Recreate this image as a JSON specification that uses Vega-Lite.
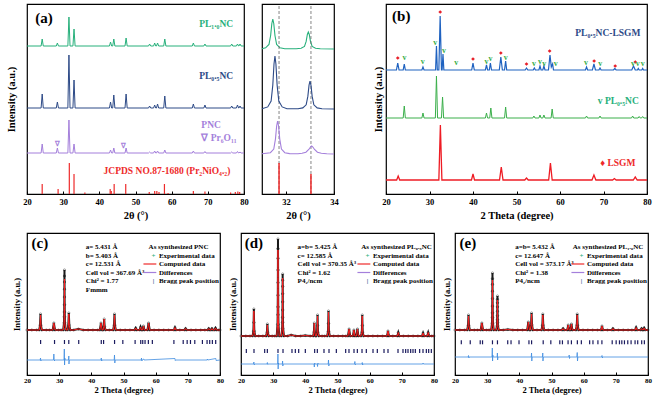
{
"$schema": "https://vega.github.io/schema/vega-lite/v6.json",
"padding": {"left": 5, "top": 3, "right": 2, "bottom": 2},
"background": "white",
"config": {
  "font": "Liberation Serif",
  "view": {"stroke": "#000", "strokeWidth": 1.2},
  "axis": {"grid": false, "domain": false, "labelFont": "Liberation Serif", "titleFont": "Liberation Serif", "labelFontWeight": "bold", "titleFontWeight": "bold", "labelColor": "#000", "titleColor": "#000", "tickColor": "#000", "labelFlush": false, "labelOverlap": false},
  "text": {"font": "Liberation Serif", "fontWeight": "bold", "baseline": "middle"}
},
"datasets": {
  "ag": [{"x":20,"y":148},{"x":23.9,"y":148},{"x":24.2,"y":155},{"x":24.5,"y":148},{"x":28.1,"y":148},{"x":28.4,"y":151},{"x":28.7,"y":148},{"x":31.3,"y":148},{"x":31.6,"y":177},{"x":31.9,"y":148},{"x":32.7,"y":148},{"x":33,"y":165},{"x":33.3,"y":148},{"x":42.8,"y":148},{"x":43.1,"y":152},{"x":43.4,"y":148},{"x":43.7,"y":148},{"x":44,"y":155},{"x":44.3,"y":148},{"x":47.1,"y":148},{"x":47.4,"y":156},{"x":47.7,"y":148},{"x":53.6,"y":148},{"x":53.9,"y":150},{"x":54.2,"y":148},{"x":55,"y":148},{"x":55.3,"y":151},{"x":55.6,"y":148},{"x":55.8,"y":148},{"x":56.1,"y":151},{"x":56.4,"y":148},{"x":57.8,"y":148},{"x":58.1,"y":155},{"x":58.4,"y":148},{"x":65.7,"y":148},{"x":66,"y":151},{"x":66.3,"y":148},{"x":68.9,"y":148},{"x":69.2,"y":150},{"x":69.5,"y":148},{"x":76.3,"y":148},{"x":76.6,"y":150},{"x":76.9,"y":148},{"x":77.9,"y":148},{"x":78.2,"y":150},{"x":78.5,"y":148},{"x":78.6,"y":148},{"x":78.9,"y":150},{"x":79.2,"y":148},{"x":80,"y":148}],
  "ab": [{"x":20,"y":86},{"x":23.9,"y":86},{"x":24.2,"y":100},{"x":24.5,"y":86},{"x":28.1,"y":86},{"x":28.4,"y":92},{"x":28.7,"y":86},{"x":31.3,"y":86},{"x":31.6,"y":139},{"x":31.9,"y":86},{"x":32.7,"y":86},{"x":33,"y":114},{"x":33.3,"y":86},{"x":42.8,"y":86},{"x":43.1,"y":92},{"x":43.4,"y":86},{"x":43.7,"y":86},{"x":44,"y":99},{"x":44.3,"y":86},{"x":47.1,"y":86},{"x":47.4,"y":100},{"x":47.7,"y":86},{"x":53.6,"y":86},{"x":53.9,"y":88},{"x":54.2,"y":86},{"x":55,"y":86},{"x":55.3,"y":89},{"x":55.6,"y":86},{"x":55.8,"y":86},{"x":56.1,"y":90},{"x":56.4,"y":86},{"x":57.8,"y":86},{"x":58.1,"y":98},{"x":58.4,"y":86},{"x":65.7,"y":86},{"x":66,"y":90},{"x":66.3,"y":86},{"x":68.9,"y":86},{"x":69.2,"y":89},{"x":69.5,"y":86},{"x":76.3,"y":86},{"x":76.6,"y":88},{"x":76.9,"y":86},{"x":77.9,"y":86},{"x":78.2,"y":89},{"x":78.5,"y":86},{"x":78.6,"y":86},{"x":78.9,"y":88},{"x":79.2,"y":86},{"x":80,"y":86}],
  "ap": [{"x":20,"y":41},{"x":23.9,"y":41},{"x":24.2,"y":50},{"x":24.5,"y":41},{"x":28.1,"y":41},{"x":28.4,"y":46},{"x":28.7,"y":41},{"x":31.3,"y":41},{"x":31.6,"y":74},{"x":31.9,"y":41},{"x":32.7,"y":41},{"x":33,"y":50},{"x":33.3,"y":41},{"x":42.8,"y":41},{"x":43.1,"y":44},{"x":43.4,"y":41},{"x":43.7,"y":41},{"x":44,"y":46},{"x":44.3,"y":41},{"x":47.1,"y":41},{"x":47.4,"y":46},{"x":47.7,"y":41},{"x":53.6,"y":41},{"x":53.9,"y":42},{"x":54.2,"y":41},{"x":55,"y":41},{"x":55.3,"y":43},{"x":55.6,"y":41},{"x":55.8,"y":41},{"x":56.1,"y":43},{"x":56.4,"y":41},{"x":57.8,"y":41},{"x":58.1,"y":44},{"x":58.4,"y":41},{"x":65.7,"y":41},{"x":66,"y":43},{"x":66.3,"y":41},{"x":68.9,"y":41},{"x":69.2,"y":42.5},{"x":69.5,"y":41},{"x":76.3,"y":41},{"x":76.6,"y":42},{"x":76.9,"y":41},{"x":77.9,"y":41},{"x":78.2,"y":42.5},{"x":78.5,"y":41},{"x":78.6,"y":41},{"x":78.9,"y":42},{"x":79.2,"y":41},{"x":80,"y":41}],
  "as": [{"x":24.2,"h":10},{"x":28.6,"h":5},{"x":31.7,"h":31},{"x":33.0,"h":20},{"x":36.0,"h":1.5},{"x":43.0,"h":5},{"x":43.3,"h":3},{"x":44.1,"h":10},{"x":47.3,"h":10},{"x":53.8,"h":2},{"x":55.3,"h":3},{"x":55.9,"h":3},{"x":56.5,"h":2},{"x":58.0,"h":10},{"x":59.0,"h":1},{"x":66.0,"h":3},{"x":69.2,"h":2.5},{"x":76.3,"h":1.5},{"x":77.6,"h":2},{"x":78.3,"h":2.5},{"x":78.8,"h":2}],
  "at": [{"x":72.3,"y":170,"t":"PL₁.₀NC","k":"g"},{"x":72.3,"y":118,"t":"PL₀.₅NC","k":"b"},{"x":70.9,"y":69,"t":"PNC","k":"p"},{"x":73.1,"y":56,"t":"∇  Pr₆O₁₁","k":"p"},{"x":58.7,"y":23,"t":"JCPDS NO.87-1680 (Pr₂NiO₄.₂)","k":"r"}],
  "av": [{"x":28.5,"y":50},{"x":46.8,"y":48}],
  "zg": [{"x":31.0,"y":145.3},{"x":31.15,"y":146.2},{"x":31.29,"y":149.5},{"x":31.36,"y":158.5},{"x":31.41,"y":170.5},{"x":31.45,"y":175},{"x":31.49,"y":170.5},{"x":31.54,"y":158.5},{"x":31.61,"y":149.5},{"x":31.75,"y":146.2},{"x":31.95,"y":145.2},{"x":32.43,"y":145.2},{"x":32.63,"y":145.7},{"x":32.77,"y":147.6},{"x":32.84,"y":152.6},{"x":32.89,"y":159.5},{"x":32.93,"y":162},{"x":32.97,"y":159.5},{"x":33.02,"y":152.6},{"x":33.09,"y":147.6},{"x":33.23,"y":145.7},{"x":33.43,"y":145.2},{"x":34,"y":145}],
  "zb": [{"x":31.0,"y":85.3},{"x":31.24,"y":87.1},{"x":31.38,"y":93},{"x":31.45,"y":108.9},{"x":31.5,"y":130},{"x":31.54,"y":138},{"x":31.58,"y":130},{"x":31.63,"y":108.9},{"x":31.7,"y":93},{"x":31.84,"y":87.1},{"x":32.04,"y":85.3},{"x":32.5,"y":85.2},{"x":32.7,"y":86.1},{"x":32.84,"y":89.2},{"x":32.91,"y":97.6},{"x":32.96,"y":108.8},{"x":33.0,"y":113},{"x":33.04,"y":108.8},{"x":33.09,"y":97.6},{"x":33.16,"y":89.2},{"x":33.3,"y":86.1},{"x":33.5,"y":85.3},{"x":34,"y":85}],
  "zp": [{"x":31.0,"y":40.2},{"x":31.35,"y":41.3},{"x":31.49,"y":45},{"x":31.56,"y":54.9},{"x":31.61,"y":68},{"x":31.65,"y":73},{"x":31.69,"y":68},{"x":31.74,"y":54.9},{"x":31.81,"y":45},{"x":31.95,"y":41.3},{"x":32.15,"y":40.4},{"x":32.5,"y":40.3},{"x":32.67,"y":40.8},{"x":32.83,"y":41.8},{"x":32.95,"y":44.5},{"x":33.02,"y":47},{"x":33.07,"y":48},{"x":33.12,"y":47},{"x":33.19,"y":44.5},{"x":33.31,"y":41.8},{"x":33.47,"y":40.8},{"x":33.7,"y":40.3},{"x":34,"y":40}],
  "zs": [{"x":31.71,"h":31},{"x":33.04,"h":20}],
  "bb": [{"x":20,"y":124},{"x":22.4,"y":124},{"x":22.7,"y":131},{"x":23.0,"y":124},{"x":23.95,"y":124},{"x":24.2,"y":130},{"x":24.45,"y":124},{"x":28.25,"y":124},{"x":28.5,"y":127},{"x":28.75,"y":124},{"x":31.4,"y":124},{"x":31.6,"y":148},{"x":31.8,"y":124},{"x":32.15,"y":124},{"x":32.45,"y":178},{"x":32.75,"y":124},{"x":32.9,"y":124},{"x":33.1,"y":140},{"x":33.3,"y":124},{"x":39.7,"y":124},{"x":40.0,"y":131},{"x":40.3,"y":124},{"x":42.85,"y":124},{"x":43.1,"y":129},{"x":43.35,"y":124},{"x":43.75,"y":124},{"x":44.0,"y":131},{"x":44.25,"y":124},{"x":46.05,"y":124},{"x":46.4,"y":137},{"x":46.75,"y":124},{"x":47.25,"y":124},{"x":47.5,"y":133},{"x":47.75,"y":124},{"x":52.0,"y":124},{"x":52.3,"y":126},{"x":52.6,"y":124},{"x":53.85,"y":124},{"x":54.1,"y":126},{"x":54.35,"y":124},{"x":55.15,"y":124},{"x":55.4,"y":128},{"x":55.65,"y":124},{"x":56.05,"y":124},{"x":56.3,"y":128},{"x":56.55,"y":124},{"x":57.35,"y":124},{"x":57.7,"y":139},{"x":58.0,"y":127},{"x":58.3,"y":130},{"x":58.5,"y":124},{"x":65.85,"y":124},{"x":66.1,"y":127},{"x":66.35,"y":124},{"x":67.45,"y":124},{"x":67.8,"y":130},{"x":68.15,"y":124},{"x":68.95,"y":124},{"x":69.2,"y":126},{"x":69.45,"y":124},{"x":72.3,"y":124},{"x":72.6,"y":125.5},{"x":72.9,"y":124},{"x":76.5,"y":124},{"x":76.9,"y":128},{"x":77.3,"y":124},{"x":77.8,"y":124},{"x":78.0,"y":125.5},{"x":78.2,"y":124},{"x":78.8,"y":124},{"x":79.0,"y":125.5},{"x":79.2,"y":124},{"x":80,"y":124}],
  "bg": [{"x":20,"y":76},{"x":23.95,"y":76},{"x":24.2,"y":88},{"x":24.45,"y":76},{"x":28.25,"y":76},{"x":28.5,"y":81},{"x":28.75,"y":76},{"x":31.35,"y":76},{"x":31.6,"y":118},{"x":31.85,"y":76},{"x":32.75,"y":76},{"x":33.0,"y":97},{"x":33.25,"y":76},{"x":42.85,"y":76},{"x":43.1,"y":81},{"x":43.35,"y":76},{"x":43.85,"y":76},{"x":44.1,"y":86},{"x":44.35,"y":76},{"x":47.25,"y":76},{"x":47.5,"y":87},{"x":47.75,"y":76},{"x":53.75,"y":76},{"x":54.0,"y":78},{"x":54.25,"y":76},{"x":55.15,"y":76},{"x":55.4,"y":79},{"x":55.65,"y":76},{"x":56.05,"y":76},{"x":56.3,"y":79},{"x":56.55,"y":76},{"x":57.95,"y":76},{"x":58.2,"y":85},{"x":58.45,"y":76},{"x":65.85,"y":76},{"x":66.1,"y":78},{"x":66.35,"y":76},{"x":68.95,"y":76},{"x":69.2,"y":78},{"x":69.45,"y":76},{"x":76.45,"y":76},{"x":76.7,"y":78},{"x":76.95,"y":76},{"x":77.95,"y":76},{"x":78.2,"y":77.5},{"x":78.45,"y":76},{"x":78.75,"y":76},{"x":79.0,"y":77.5},{"x":79.25,"y":76},{"x":80,"y":76}],
  "br": [{"x":20,"y":14},{"x":22.45,"y":14},{"x":22.8,"y":18},{"x":23.15,"y":14},{"x":32.15,"y":14},{"x":32.5,"y":69},{"x":32.85,"y":14},{"x":39.65,"y":14},{"x":40.0,"y":20},{"x":40.35,"y":14},{"x":46.1,"y":14},{"x":46.5,"y":27},{"x":46.9,"y":14},{"x":51.9,"y":14},{"x":52.3,"y":16},{"x":52.7,"y":14},{"x":57.4,"y":14},{"x":57.8,"y":31},{"x":58.2,"y":14},{"x":67.35,"y":14},{"x":67.8,"y":19},{"x":68.25,"y":14},{"x":72.1,"y":14},{"x":72.5,"y":15.5},{"x":72.9,"y":14},{"x":76.85,"y":14},{"x":77.3,"y":17},{"x":77.75,"y":14},{"x":80,"y":14}],
  "bd": [{"x":22.7,"y":136},{"x":32.46,"y":182},{"x":40.0,"y":135},{"x":46.4,"y":141},{"x":52.3,"y":130},{"x":57.62,"y":143},{"x":67.85,"y":133},{"x":72.69,"y":128},{"x":77.31,"y":132}],
  "bv": [{"x":24.23,"y":136},{"x":28.46,"y":132},{"x":31.31,"y":151},{"x":33.31,"y":143},{"x":36.15,"y":131},{"x":43.08,"y":132},{"x":44.0,"y":135},{"x":47.54,"y":136},{"x":54.0,"y":130},{"x":55.38,"y":132},{"x":56.38,"y":130},{"x":59.0,"y":130},{"x":66.0,"y":131},{"x":69.23,"y":130},{"x":76.77,"y":130},{"x":77.85,"y":130},{"x":79.0,"y":130}],
  "bt": [{"x":71,"y":161,"t":"PL₀.₅NC-LSGM","k":"b"},{"x":73.4,"y":93,"t":"v  PL₀.₅NC","k":"g"},{"x":73.3,"y":31,"t":"♦ LSGM","k":"r"}],
  "co": [{"x":20,"o":45,"c":45},{"x":21.5,"o":45,"c":45},{"x":23,"o":45,"c":45},{"x":23.8,"o":45,"c":45},{"x":24.05,"o":49.8,"c":49.5},{"x":24.2,"o":61,"c":60},{"x":24.35,"o":49.8,"c":49.5},{"x":24.6,"o":45,"c":45},{"x":26,"o":45,"c":45},{"x":27,"o":45,"c":45},{"x":28.0,"o":45,"c":45},{"x":28.35,"o":52,"c":52},{"x":28.7,"o":45,"c":45},{"x":29.8,"o":45,"c":45},{"x":30.6,"o":45,"c":45},{"x":31.25,"o":45,"c":45},{"x":31.5,"o":52.2,"c":51.1},{"x":31.55,"o":58.2,"c":56.2},{"x":31.57,"o":63,"c":60.3},{"x":31.59,"o":70.2,"c":66.4},{"x":31.61,"o":78,"c":73.1},{"x":31.62,"o":85.8,"c":79.7},{"x":31.63,"o":93,"c":85.8},{"x":31.64,"o":99,"c":90.9},{"x":31.65,"o":105,"c":96},{"x":31.66,"o":99,"c":90.9},{"x":31.67,"o":93,"c":85.8},{"x":31.68,"o":85.8,"c":79.7},{"x":31.69,"o":78,"c":73.1},{"x":31.71,"o":70.2,"c":66.4},{"x":31.73,"o":63,"c":60.3},{"x":31.75,"o":58.2,"c":56.2},{"x":31.8,"o":52.2,"c":51.1},{"x":32.05,"o":45,"c":45},{"x":32.6,"o":45,"c":45},{"x":32.85,"o":50.1,"c":49.8},{"x":33.0,"o":62,"c":61},{"x":33.15,"o":50.1,"c":49.8},{"x":33.4,"o":45,"c":45},{"x":34.5,"o":45,"c":45},{"x":36,"o":46,"c":46},{"x":37.5,"o":45,"c":45},{"x":39,"o":45,"c":45},{"x":40.5,"o":45,"c":45},{"x":42,"o":45,"c":45},{"x":42.65,"o":45,"c":45},{"x":43.0,"o":52,"c":52},{"x":43.35,"o":45,"c":45},{"x":43.65,"o":45,"c":45},{"x":43.85,"o":48.3,"c":48.3},{"x":44.0,"o":56,"c":56},{"x":44.15,"o":48.3,"c":48.3},{"x":44.4,"o":45,"c":45},{"x":45.6,"o":45,"c":45},{"x":46.8,"o":45,"c":45},{"x":47.05,"o":49.8,"c":49.5},{"x":47.2,"o":61,"c":60},{"x":47.35,"o":49.8,"c":49.5},{"x":47.6,"o":45,"c":45},{"x":49,"o":45,"c":45},{"x":50.5,"o":45,"c":45},{"x":52,"o":45,"c":45},{"x":53.5,"o":45,"c":45},{"x":53.8,"o":47,"c":47},{"x":54.1,"o":45,"c":45},{"x":55.0,"o":45,"c":45},{"x":55.3,"o":48,"c":48},{"x":55.6,"o":45,"c":45},{"x":55.9,"o":45,"c":45},{"x":56.2,"o":49,"c":49},{"x":56.5,"o":45,"c":45},{"x":57.45,"o":45,"c":45},{"x":57.8,"o":52,"c":52},{"x":58.15,"o":45,"c":45},{"x":59.5,"o":45,"c":45},{"x":61,"o":45,"c":45},{"x":62.5,"o":45,"c":45},{"x":64,"o":45,"c":45},{"x":65.7,"o":45,"c":45},{"x":66.0,"o":47.5,"c":47.5},{"x":66.3,"o":45,"c":45},{"x":67.5,"o":45,"c":45},{"x":69.0,"o":45,"c":45},{"x":69.3,"o":46.5,"c":46.5},{"x":69.6,"o":45,"c":45},{"x":71,"o":45,"c":45},{"x":72.5,"o":45,"c":45},{"x":74,"o":45,"c":45},{"x":75.3,"o":45,"c":45},{"x":76.2,"o":45,"c":45},{"x":76.5,"o":46.5,"c":46.5},{"x":76.8,"o":45,"c":45},{"x":77.2,"o":45,"c":45},{"x":77.5,"o":46.5,"c":46.5},{"x":77.8,"o":45,"c":45},{"x":78.3,"o":45,"c":45},{"x":78.6,"o":47,"c":47},{"x":78.9,"o":45,"c":45},{"x":79.5,"o":45,"c":45},{"x":80,"o":45,"c":45}],
  "cd": [{"x":20,"y":15},{"x":24.1,"y":15},{"x":24.2,"y":17},{"x":24.3,"y":14},{"x":24.4,"y":15},{"x":28.2,"y":15},{"x":28.35,"y":21},{"x":28.5,"y":14},{"x":28.6,"y":15},{"x":31.5,"y":15},{"x":31.6,"y":26},{"x":31.68,"y":10},{"x":31.75,"y":17},{"x":31.85,"y":15},{"x":32.9,"y":15},{"x":33.0,"y":19},{"x":33.05,"y":11},{"x":33.15,"y":15},{"x":43.0,"y":15},{"x":43.1,"y":17},{"x":43.2,"y":14},{"x":43.3,"y":15},{"x":47.1,"y":15},{"x":47.2,"y":20},{"x":47.3,"y":12},{"x":47.4,"y":15},{"x":55.5,"y":15},{"x":55.6,"y":17},{"x":55.7,"y":14},{"x":55.8,"y":15},{"x":56.3,"y":16},{"x":56.4,"y":15},{"x":66.0,"y":16.5},{"x":66.1,"y":14.5},{"x":66.2,"y":15},{"x":76.0,"y":15},{"x":76.1,"y":16},{"x":76.2,"y":15},{"x":78.7,"y":16.5},{"x":78.8,"y":14.5},{"x":80,"y":15}],
  "cb": [{"x":24.23},{"x":28.56},{"x":31.65},{"x":32.99},{"x":36.08},{"x":43.09},{"x":43.81},{"x":47.22},{"x":49.79},{"x":53.61},{"x":55.36},{"x":55.98},{"x":56.7},{"x":57.73},{"x":58.97},{"x":65.67},{"x":68.56},{"x":69.79},{"x":70.82},{"x":72.16},{"x":74.53},{"x":75.98},{"x":76.8},{"x":77.63},{"x":78.66}],
  "ct": [{"x":38.3,"y":128,"t":"a= 5.431 Å"},{"x":38.3,"y":119.5,"t":"b= 5.403 Å"},{"x":38.3,"y":111,"t":"c= 12.531 Å"},{"x":38.3,"y":102.5,"t":"Cell vol = 367.69 Å³"},{"x":38.3,"y":94,"t":"Chi² = 1.77"},{"x":38.3,"y":85.5,"t":"Fmmm"},{"x":57.8,"y":128,"t":"As synthesized PNC"},{"x":61,"y":119.5,"t":"Experimental data"},{"x":61,"y":111,"t":"Computed data"},{"x":61,"y":102.5,"t":"Differences"},{"x":61,"y":94,"t":"Bragg peak position"}],
  "do": [{"x":20,"o":39,"c":39},{"x":21.5,"o":39,"c":39},{"x":22.8,"o":39,"c":39},{"x":23.6,"o":39,"c":39},{"x":23.85,"o":43.9,"c":43.5},{"x":23.93,"o":52.5,"c":51.5},{"x":24.0,"o":66,"c":64},{"x":24.07,"o":52.5,"c":51.5},{"x":24.15,"o":43.9,"c":43.5},{"x":24.4,"o":39,"c":39},{"x":25.5,"o":39,"c":39},{"x":26.8,"o":39,"c":39},{"x":27.8,"o":39,"c":39},{"x":28.05,"o":42.6,"c":42.3},{"x":28.2,"o":51,"c":50},{"x":28.35,"o":42.6,"c":42.3},{"x":28.6,"o":39,"c":39},{"x":29.7,"o":39,"c":39},{"x":30.5,"o":39,"c":39},{"x":31.1,"o":39,"c":39},{"x":31.35,"o":50.6,"c":49.3},{"x":31.4,"o":60.3,"c":57.9},{"x":31.42,"o":68.1,"c":64.8},{"x":31.44,"o":79.7,"c":75.1},{"x":31.46,"o":92.4,"c":86.3},{"x":31.47,"o":105,"c":97.5},{"x":31.48,"o":116.6,"c":107.8},{"x":31.49,"o":126.3,"c":116.4},{"x":31.5,"o":136,"c":125},{"x":31.51,"o":126.3,"c":116.4},{"x":31.52,"o":116.6,"c":107.8},{"x":31.53,"o":105,"c":97.5},{"x":31.54,"o":92.4,"c":86.3},{"x":31.56,"o":79.7,"c":75.1},{"x":31.58,"o":68.1,"c":64.8},{"x":31.6,"o":60.3,"c":57.9},{"x":31.65,"o":50.6,"c":49.3},{"x":31.9,"o":39,"c":39},{"x":32.55,"o":39,"c":39},{"x":32.8,"o":46.4,"c":46},{"x":32.85,"o":52.6,"c":51.8},{"x":32.87,"o":57.6,"c":56.4},{"x":32.89,"o":65,"c":63.4},{"x":32.91,"o":73.1,"c":70.9},{"x":32.92,"o":81.2,"c":78.4},{"x":32.93,"o":88.6,"c":85.4},{"x":32.94,"o":94.8,"c":91.2},{"x":32.95,"o":101,"c":97},{"x":32.96,"o":94.8,"c":91.2},{"x":32.97,"o":88.6,"c":85.4},{"x":32.98,"o":81.2,"c":78.4},{"x":32.99,"o":73.1,"c":70.9},{"x":33.01,"o":65,"c":63.4},{"x":33.03,"o":57.6,"c":56.4},{"x":33.05,"o":52.6,"c":51.8},{"x":33.1,"o":46.4,"c":46},{"x":33.35,"o":39,"c":39},{"x":34.5,"o":39,"c":39},{"x":35.6,"o":40,"c":40},{"x":37,"o":39,"c":39},{"x":38.5,"o":39,"c":39},{"x":40,"o":39.5,"c":39.5},{"x":41.5,"o":39,"c":39},{"x":42.45,"o":39,"c":39},{"x":42.65,"o":42.9,"c":42.9},{"x":42.8,"o":52,"c":52},{"x":42.95,"o":42.9,"c":42.9},{"x":43.15,"o":39,"c":39},{"x":43.4,"o":39,"c":39},{"x":43.65,"o":42.8,"c":42.5},{"x":43.73,"o":49.5,"c":49},{"x":43.8,"o":60,"c":59},{"x":43.87,"o":49.5,"c":49},{"x":43.95,"o":42.8,"c":42.5},{"x":44.2,"o":39,"c":39},{"x":45.2,"o":39,"c":39},{"x":46,"o":39,"c":39},{"x":46.8,"o":39,"c":39},{"x":47.05,"o":43.5,"c":43.3},{"x":47.13,"o":51.5,"c":51},{"x":47.2,"o":64,"c":63},{"x":47.27,"o":51.5,"c":51},{"x":47.35,"o":43.5,"c":43.3},{"x":47.6,"o":39,"c":39},{"x":48.8,"o":39,"c":39},{"x":50.2,"o":39,"c":39},{"x":51.6,"o":39,"c":39},{"x":52.6,"o":39,"c":39},{"x":53.25,"o":39,"c":39},{"x":53.6,"o":46,"c":46},{"x":53.95,"o":39,"c":39},{"x":54.8,"o":39,"c":39},{"x":55.1,"o":45,"c":45},{"x":55.4,"o":39,"c":39},{"x":55.9,"o":39,"c":39},{"x":56.2,"o":46,"c":46},{"x":56.5,"o":39,"c":39},{"x":57.3,"o":39,"c":39},{"x":57.55,"o":42.8,"c":42.6},{"x":57.63,"o":49.5,"c":49},{"x":57.7,"o":60,"c":59},{"x":57.77,"o":49.5,"c":49},{"x":57.85,"o":42.8,"c":42.6},{"x":58.1,"o":39,"c":39},{"x":59.5,"o":39,"c":39},{"x":61,"o":39,"c":39},{"x":62.5,"o":39,"c":39},{"x":64,"o":39,"c":39},{"x":65.4,"o":39,"c":39},{"x":65.7,"o":44,"c":44},{"x":66.0,"o":39,"c":39},{"x":67.2,"o":39,"c":39},{"x":68.6,"o":39,"c":39},{"x":68.9,"o":42.5,"c":42.5},{"x":69.2,"o":39,"c":39},{"x":70.5,"o":39,"c":39},{"x":72,"o":39,"c":39},{"x":73.5,"o":39,"c":39},{"x":75,"o":39,"c":39},{"x":76.3,"o":39,"c":39},{"x":76.6,"o":42,"c":42},{"x":76.9,"o":39,"c":39},{"x":77.9,"o":39,"c":39},{"x":78.2,"o":42.5,"c":42.5},{"x":78.5,"o":39,"c":39},{"x":79.3,"o":39,"c":39},{"x":80,"o":39,"c":39}],
  "dd": [{"x":20,"y":11},{"x":23.9,"y":11},{"x":24.0,"y":13},{"x":24.1,"y":10},{"x":24.2,"y":11},{"x":28.1,"y":11},{"x":28.2,"y":12.5},{"x":28.3,"y":10.5},{"x":28.4,"y":11},{"x":31.4,"y":11},{"x":31.48,"y":21},{"x":31.55,"y":6},{"x":31.62,"y":12},{"x":31.7,"y":11},{"x":32.85,"y":11},{"x":32.93,"y":14},{"x":33.0,"y":9},{"x":33.1,"y":11},{"x":42.7,"y":11},{"x":42.8,"y":8},{"x":42.9,"y":12},{"x":43.0,"y":11},{"x":43.7,"y":11},{"x":43.8,"y":8.5},{"x":43.9,"y":12},{"x":44.0,"y":11},{"x":47.1,"y":11},{"x":47.2,"y":15},{"x":47.3,"y":9},{"x":47.4,"y":11},{"x":55.3,"y":11},{"x":55.4,"y":13.5},{"x":55.5,"y":10},{"x":55.6,"y":11},{"x":57.6,"y":11},{"x":57.7,"y":12.5},{"x":57.8,"y":10},{"x":57.9,"y":11},{"x":76.5,"y":11},{"x":76.6,"y":12},{"x":76.7,"y":11},{"x":80,"y":11}],
  "db": [{"x":21.66},{"x":24.04},{"x":27.36},{"x":28.19},{"x":31.5},{"x":33.06},{"x":35.85},{"x":36.89},{"x":37.93},{"x":40.0},{"x":42.9},{"x":43.73},{"x":45.8},{"x":47.36},{"x":49.64},{"x":52.54},{"x":53.57},{"x":55.13},{"x":56.17},{"x":57.62},{"x":58.96},{"x":61.04},{"x":62.38},{"x":64.46},{"x":65.7},{"x":68.81},{"x":70.36},{"x":71.19},{"x":71.92},{"x":72.75},{"x":73.47},{"x":74.2},{"x":75.54},{"x":76.58},{"x":77.62},{"x":78.34},{"x":79.17}],
  "dt": [{"x":37.6,"y":128,"t":"a=b= 5.425 Å"},{"x":37.6,"y":119.5,"t":"c= 12.585 Å"},{"x":37.6,"y":111,"t":"Cell vol = 370.35 Å³"},{"x":37.6,"y":102.5,"t":"Chi² = 1.62"},{"x":37.6,"y":94,"t":"P4₂/ncm"},{"x":57.4,"y":128,"t":"As synthesized PL₀.₅NC"},{"x":61,"y":119.5,"t":"Experimental data"},{"x":61,"y":111,"t":"Computed data"},{"x":61,"y":102.5,"t":"Differences"},{"x":61,"y":94,"t":"Bragg peak position"}],
  "eo": [{"x":20,"o":45,"c":45},{"x":21.5,"o":45,"c":45},{"x":23,"o":45,"c":45},{"x":23.8,"o":45,"c":45},{"x":24.05,"o":49.5,"c":49.2},{"x":24.2,"o":60,"c":59},{"x":24.35,"o":49.5,"c":49.2},{"x":24.6,"o":45,"c":45},{"x":26,"o":45,"c":45},{"x":27,"o":45,"c":45},{"x":28.0,"o":45,"c":45},{"x":28.35,"o":52,"c":52},{"x":28.7,"o":45,"c":45},{"x":29.8,"o":45,"c":45},{"x":30.6,"o":45,"c":45},{"x":31.25,"o":45,"c":45},{"x":31.5,"o":51.8,"c":51},{"x":31.55,"o":57.5,"c":56},{"x":31.57,"o":62.1,"c":60},{"x":31.59,"o":68.9,"c":66},{"x":31.61,"o":76.4,"c":72.5},{"x":31.62,"o":83.8,"c":79},{"x":31.63,"o":90.6,"c":85},{"x":31.64,"o":96.3,"c":90},{"x":31.65,"o":102,"c":95},{"x":31.66,"o":96.3,"c":90},{"x":31.67,"o":90.6,"c":85},{"x":31.68,"o":83.8,"c":79},{"x":31.69,"o":76.4,"c":72.5},{"x":31.71,"o":68.9,"c":66},{"x":31.73,"o":62.1,"c":60},{"x":31.75,"o":57.5,"c":56},{"x":31.8,"o":51.8,"c":51},{"x":32.05,"o":45,"c":45},{"x":32.8,"o":45,"c":45},{"x":33.05,"o":49.1,"c":48.6},{"x":33.1,"o":52.5,"c":51.6},{"x":33.12,"o":55.2,"c":54},{"x":33.14,"o":59.3,"c":57.6},{"x":33.16,"o":63.7,"c":61.5},{"x":33.17,"o":68.1,"c":65.4},{"x":33.18,"o":72.2,"c":69},{"x":33.19,"o":75.6,"c":72},{"x":33.2,"o":79,"c":75},{"x":33.21,"o":75.6,"c":72},{"x":33.22,"o":72.2,"c":69},{"x":33.23,"o":68.1,"c":65.4},{"x":33.24,"o":63.7,"c":61.5},{"x":33.26,"o":59.3,"c":57.6},{"x":33.28,"o":55.2,"c":54},{"x":33.3,"o":52.5,"c":51.6},{"x":33.35,"o":49.1,"c":48.6},{"x":33.6,"o":45,"c":45},{"x":35,"o":45,"c":45},{"x":36.4,"o":45.5,"c":45.5},{"x":38,"o":45,"c":45},{"x":39.5,"o":45,"c":45},{"x":41,"o":45,"c":45},{"x":42.45,"o":45,"c":45},{"x":42.8,"o":53,"c":53},{"x":43.15,"o":45,"c":45},{"x":43.4,"o":45,"c":45},{"x":43.65,"o":50.1,"c":49.8},{"x":43.8,"o":62,"c":61},{"x":43.95,"o":50.1,"c":49.8},{"x":44.2,"o":45,"c":45},{"x":45.5,"o":45,"c":45},{"x":46.9,"o":45,"c":45},{"x":47.15,"o":49.8,"c":49.5},{"x":47.3,"o":61,"c":60},{"x":47.45,"o":49.8,"c":49.5},{"x":47.7,"o":45,"c":45},{"x":49,"o":45,"c":45},{"x":50.5,"o":45,"c":45},{"x":52,"o":45,"c":45},{"x":53.3,"o":45,"c":45},{"x":53.6,"o":46.5,"c":46.5},{"x":53.9,"o":45,"c":45},{"x":54.9,"o":45,"c":45},{"x":55.2,"o":50,"c":50},{"x":55.5,"o":45,"c":45},{"x":55.9,"o":45,"c":45},{"x":56.2,"o":51,"c":51},{"x":56.5,"o":45,"c":45},{"x":57.6,"o":45,"c":45},{"x":57.85,"o":49.8,"c":49.5},{"x":58.0,"o":61,"c":60},{"x":58.15,"o":49.8,"c":49.5},{"x":58.4,"o":45,"c":45},{"x":59.8,"o":45,"c":45},{"x":61.3,"o":45,"c":45},{"x":62.8,"o":45,"c":45},{"x":64.3,"o":45,"c":45},{"x":65.4,"o":45,"c":45},{"x":65.7,"o":49,"c":49},{"x":66.0,"o":45,"c":45},{"x":67.4,"o":45,"c":45},{"x":68.8,"o":45,"c":45},{"x":69.1,"o":46.5,"c":46.5},{"x":69.4,"o":45,"c":45},{"x":70.8,"o":45,"c":45},{"x":72.3,"o":45,"c":45},{"x":73.8,"o":45,"c":45},{"x":75,"o":45,"c":45},{"x":76.0,"o":45,"c":45},{"x":76.3,"o":47.5,"c":47.5},{"x":76.6,"o":45,"c":45},{"x":77.7,"o":45,"c":45},{"x":78.0,"o":46.5,"c":46.5},{"x":78.3,"o":45,"c":45},{"x":78.5,"o":45,"c":45},{"x":78.8,"o":47,"c":47},{"x":79.1,"o":45,"c":45},{"x":80,"o":45,"c":45}],
  "ed": [{"x":20,"y":18},{"x":24.1,"y":18},{"x":24.2,"y":19.5},{"x":24.3,"y":17},{"x":24.4,"y":18},{"x":31.5,"y":18},{"x":31.6,"y":27},{"x":31.68,"y":14},{"x":31.75,"y":20},{"x":31.85,"y":18},{"x":33.1,"y":18},{"x":33.18,"y":22},{"x":33.25,"y":15},{"x":33.35,"y":18},{"x":43.7,"y":18},{"x":43.8,"y":22},{"x":43.88,"y":14},{"x":43.95,"y":18},{"x":47.2,"y":18},{"x":47.28,"y":22},{"x":47.35,"y":14},{"x":47.45,"y":18},{"x":55.4,"y":18},{"x":55.5,"y":20},{"x":55.6,"y":16.5},{"x":55.7,"y":18},{"x":57.9,"y":18},{"x":58.0,"y":22.5},{"x":58.08,"y":14},{"x":58.2,"y":18},{"x":65.6,"y":18},{"x":65.7,"y":19.5},{"x":65.8,"y":17},{"x":65.9,"y":18},{"x":80,"y":18}],
  "eb": [{"x":21.96},{"x":24.74},{"x":27.84},{"x":28.56},{"x":31.65},{"x":33.2},{"x":36.39},{"x":37.42},{"x":39.9},{"x":42.99},{"x":43.81},{"x":47.42},{"x":49.79},{"x":52.58},{"x":53.4},{"x":55.15},{"x":56.19},{"x":58.04},{"x":59.28},{"x":61.86},{"x":62.89},{"x":64.43},{"x":65.67},{"x":68.87},{"x":70.1},{"x":71.13},{"x":71.86},{"x":72.68},{"x":73.71},{"x":74.74},{"x":75.98},{"x":76.8},{"x":78.04},{"x":78.87}],
  "et": [{"x":38.7,"y":128,"t":"a=b= 5.432 Å"},{"x":38.7,"y":119.5,"t":"c= 12.647 Å"},{"x":38.7,"y":111,"t":"Cell vol = 373.17 Å³"},{"x":38.7,"y":102.5,"t":"Chi² = 1.38"},{"x":38.7,"y":94,"t":"P4₂/ncm"},{"x":56.6,"y":128,"t":"As synthesized PL₁.₀NC"},{"x":61,"y":119.5,"t":"Experimental data"},{"x":61,"y":111,"t":"Computed data"},{"x":61,"y":102.5,"t":"Differences"},{"x":61,"y":94,"t":"Bragg peak position"}],
  "sym": [{"x":59.3,"y":119.5,"t":"+","k":"k"},{"x":59.3,"y":94,"t":"|","k":"n"}],
  "leg": [{"x":56.2,"x2":60.2,"y":111,"k":"r"},{"x":56.2,"x2":60.2,"y":102.5,"k":"d"}]
},
"spacing": 10,
"vconcat": [
 {"bounds": "flush", "spacing": 18, "hconcat": [
  {"width": 217, "height": 190,
   "encoding": {"x": {"field": "x", "type": "quantitative", "scale": {"domain": [20, 80], "nice": false, "zero": false}, "axis": {"values": [20,30,40,50,60,70,80], "title": "2θ (°)", "tickSize": -3, "labelFontSize": 8.5, "titleFontSize": 10.5, "labelPadding": 6, "titlePadding": 5}}},
   "layer": [
    {"data": {"name": "ag"}, "mark": {"type": "line", "color": "#27b07b", "strokeWidth": 1}, "encoding": {"y": {"field": "y", "type": "quantitative", "scale": {"domain": [0, 190], "nice": false}, "axis": {"title": "Intensity (a.u.)", "labels": false, "ticks": false, "titleFontSize": 10.5, "titlePadding": 11}}}},
    {"data": {"name": "ab"}, "mark": {"type": "line", "color": "#2d4a87", "strokeWidth": 1}, "encoding": {"y": {"field": "y", "type": "quantitative"}}},
    {"data": {"name": "ap"}, "mark": {"type": "line", "color": "#a47fdb", "strokeWidth": 1}, "encoding": {"y": {"field": "y", "type": "quantitative"}}},
    {"data": {"name": "as"}, "mark": {"type": "rule", "color": "#ee2a2a", "strokeWidth": 1.2}, "encoding": {"y": {"field": "h", "type": "quantitative"}, "y2": {"datum": 0}}},
    {"data": {"name": "av"}, "mark": {"type": "text", "color": "#a47fdb", "fontSize": 7}, "encoding": {"y": {"field": "y", "type": "quantitative"}, "text": {"value": "∇"}}},
    {"data": {"name": "at"}, "mark": {"type": "text", "fontSize": 9.5}, "encoding": {"y": {"field": "y", "type": "quantitative"}, "text": {"field": "t", "type": "nominal"}, "color": {"field": "k", "type": "nominal", "scale": {"domain": ["g","b","p","r"], "range": ["#27b07b","#2d4a87","#a47fdb","#ee2a2a"]}, "legend": null}}},
    {"data": {"values": [{"x": 24.7, "y": 176, "t": "(a)"}]}, "mark": {"type": "text", "fontSize": 15}, "encoding": {"y": {"field": "y", "type": "quantitative"}, "text": {"field": "t", "type": "nominal"}}}
   ]},
  {"width": 72, "height": 190,
   "encoding": {"x": {"field": "x", "type": "quantitative", "scale": {"domain": [31, 34], "nice": false, "zero": false}, "axis": {"values": [32, 34], "title": "2θ (°)", "tickSize": -3, "labelFontSize": 8.5, "titleFontSize": 10.5, "labelPadding": 6, "titlePadding": 5}}},
   "layer": [
    {"data": {"name": "zg"}, "mark": {"type": "line", "color": "#27b07b", "strokeWidth": 1.1}, "encoding": {"y": {"field": "y", "type": "quantitative", "scale": {"domain": [0, 190], "nice": false}, "axis": null}}},
    {"data": {"name": "zs"}, "mark": {"type": "rule", "color": "#666", "strokeWidth": 0.8, "strokeDash": [3, 2]}, "encoding": {"y": {"datum": 0, "type": "quantitative", "axis": null}, "y2": {"datum": 190}}},
    {"data": {"name": "zb"}, "mark": {"type": "line", "color": "#2d4a87", "strokeWidth": 1.1}, "encoding": {"y": {"field": "y", "type": "quantitative", "axis": null}}},
    {"data": {"name": "zp"}, "mark": {"type": "line", "color": "#a47fdb", "strokeWidth": 1.1}, "encoding": {"y": {"field": "y", "type": "quantitative", "axis": null}}},
    {"data": {"name": "zs"}, "mark": {"type": "rule", "color": "#ee2a2a", "strokeWidth": 1.5}, "encoding": {"y": {"field": "h", "type": "quantitative", "axis": null}, "y2": {"datum": 0}}}
   ]},
  {"width": 16, "height": 190, "view": {"stroke": null}, "data": {"values": [{"x": 50, "y": 0}]}, "mark": {"type": "point", "opacity": 0}, "encoding": {"x": {"field": "x", "type": "quantitative", "axis": null}, "y": {"field": "y", "type": "quantitative", "axis": null}}},
  {"width": 261, "height": 190,
   "encoding": {"x": {"field": "x", "type": "quantitative", "scale": {"domain": [20, 80], "nice": false, "zero": false}, "axis": {"values": [20,30,40,50,60,70,80], "title": "2 Theta (degree)", "tickSize": -3, "labelFontSize": 8.5, "titleFontSize": 10.5, "labelPadding": 6, "titlePadding": 5}}},
   "layer": [
    {"data": {"name": "br"}, "mark": {"type": "line", "color": "#ee1c24", "strokeWidth": 1.3}, "encoding": {"y": {"field": "y", "type": "quantitative", "scale": {"domain": [0, 190], "nice": false}, "axis": {"title": "Intensity (a.u.)", "labels": false, "ticks": false, "titleFontSize": 10.5, "titlePadding": 3}}}},
    {"data": {"name": "bg"}, "mark": {"type": "line", "color": "#3aaf4a", "strokeWidth": 1}, "encoding": {"y": {"field": "y", "type": "quantitative"}}},
    {"data": {"name": "bb"}, "mark": {"type": "line", "color": "#1f62c0", "strokeWidth": 1.2}, "encoding": {"y": {"field": "y", "type": "quantitative"}}},
    {"data": {"name": "bd"}, "mark": {"type": "point", "shape": "diamond", "filled": true, "color": "#e8202a", "size": 14, "opacity": 1}, "encoding": {"y": {"field": "y", "type": "quantitative"}}},
    {"data": {"name": "bv"}, "mark": {"type": "text", "color": "#3aaf4a", "fontSize": 8}, "encoding": {"y": {"field": "y", "type": "quantitative"}, "text": {"value": "v"}}},
    {"data": {"name": "bt"}, "mark": {"type": "text", "fontSize": 9.5}, "encoding": {"y": {"field": "y", "type": "quantitative"}, "text": {"field": "t", "type": "nominal"}, "color": {"field": "k", "type": "nominal", "scale": {"domain": ["b","g","r"], "range": ["#1f62c0","#3aaf4a","#ee1c24"]}, "legend": null}}},
    {"data": {"values": [{"x": 23.5, "y": 178, "t": "(b)"}]}, "mark": {"type": "text", "fontSize": 15}, "encoding": {"y": {"field": "y", "type": "quantitative"}, "text": {"field": "t", "type": "nominal"}}}
   ]}
 ]},
 {"bounds": "flush", "spacing": 21, "hconcat": [
  {"width": 193, "height": 142,
   "encoding": {"x": {"field": "x", "type": "quantitative", "scale": {"domain": [20, 80], "nice": false, "zero": false}, "axis": {"values": [20,30,40,50,60,70,80], "title": "2 Theta (degree)", "tickSize": -3, "labelFontSize": 7, "titleFontSize": 8.5, "labelPadding": 4, "titlePadding": 2}}},
   "layer": [
    {"data": {"name": "co"}, "mark": {"type": "line", "color": "#1a1a1a", "strokeWidth": 2}, "encoding": {"y": {"field": "o", "type": "quantitative", "scale": {"domain": [0, 142], "nice": false}, "axis": {"title": "Intensity (a.u.)", "labels": false, "ticks": false, "titleFontSize": 8.5, "titlePadding": 6}}}},
    {"data": {"name": "co"}, "mark": {"type": "point", "shape": "circle", "size": 5, "color": "#222", "strokeWidth": 0.6, "filled": false}, "encoding": {"y": {"field": "o", "type": "quantitative"}}},
    {"data": {"name": "co"}, "mark": {"type": "line", "color": "#ff2020", "strokeWidth": 1}, "encoding": {"y": {"field": "c", "type": "quantitative"}}},
    {"data": {"name": "cd"}, "mark": {"type": "line", "color": "#3d8be0", "strokeWidth": 0.8}, "encoding": {"y": {"field": "y", "type": "quantitative"}}},
    {"data": {"name": "cb"}, "mark": {"type": "rule", "color": "#1b1b5e", "strokeWidth": 1.2}, "encoding": {"y": {"datum": 31, "type": "quantitative"}, "y2": {"datum": 35}}},
    {"data": {"name": "ct"}, "mark": {"type": "text", "align": "left", "fontSize": 7}, "encoding": {"y": {"field": "y", "type": "quantitative"}, "text": {"field": "t", "type": "nominal"}}},
    {"data": {"name": "sym"}, "mark": {"type": "text", "fontSize": 7}, "encoding": {"y": {"field": "y", "type": "quantitative"}, "text": {"field": "t", "type": "nominal"}, "color": {"field": "k", "type": "nominal", "scale": {"domain": ["k","n","r","d"], "range": ["#000000","#1b1b5e","#ff2020","#6fa6e8"]}, "legend": null}}},
    {"data": {"name": "leg"}, "mark": {"type": "rule", "strokeWidth": 1.2}, "encoding": {"x2": {"field": "x2"}, "y": {"field": "y", "type": "quantitative"}, "color": {"field": "k", "type": "nominal", "scale": {"domain": ["k","n","r","d"], "range": ["#000000","#1b1b5e","#ff2020","#6fa6e8"]}, "legend": null}}},
    {"data": {"values": [{"x": 24, "y": 132, "t": "(c)"}]}, "mark": {"type": "text", "fontSize": 15}, "encoding": {"y": {"field": "y", "type": "quantitative"}, "text": {"field": "t", "type": "nominal"}}}
   ]},
  {"width": 193, "height": 142,
   "encoding": {"x": {"field": "x", "type": "quantitative", "scale": {"domain": [20, 80], "nice": false, "zero": false}, "axis": {"values": [20,30,40,50,60,70,80], "title": "2 Theta (degree)", "tickSize": -3, "labelFontSize": 7, "titleFontSize": 8.5, "labelPadding": 4, "titlePadding": 2}}},
   "layer": [
    {"data": {"name": "do"}, "mark": {"type": "line", "color": "#1a1a1a", "strokeWidth": 2}, "encoding": {"y": {"field": "o", "type": "quantitative", "scale": {"domain": [0, 142], "nice": false}, "axis": {"title": "Intensity (a.u.)", "labels": false, "ticks": false, "titleFontSize": 8.5, "titlePadding": 4}}}},
    {"data": {"name": "do"}, "mark": {"type": "point", "shape": "circle", "size": 5, "color": "#222", "strokeWidth": 0.6, "filled": false}, "encoding": {"y": {"field": "o", "type": "quantitative"}}},
    {"data": {"name": "do"}, "mark": {"type": "line", "color": "#ff2020", "strokeWidth": 1}, "encoding": {"y": {"field": "c", "type": "quantitative"}}},
    {"data": {"name": "dd"}, "mark": {"type": "line", "color": "#3d8be0", "strokeWidth": 0.8}, "encoding": {"y": {"field": "y", "type": "quantitative"}}},
    {"data": {"name": "db"}, "mark": {"type": "rule", "color": "#1b1b5e", "strokeWidth": 1.2}, "encoding": {"y": {"datum": 22, "type": "quantitative"}, "y2": {"datum": 26}}},
    {"data": {"name": "dt"}, "mark": {"type": "text", "align": "left", "fontSize": 7}, "encoding": {"y": {"field": "y", "type": "quantitative"}, "text": {"field": "t", "type": "nominal"}}},
    {"data": {"name": "sym"}, "mark": {"type": "text", "fontSize": 7}, "encoding": {"y": {"field": "y", "type": "quantitative"}, "text": {"field": "t", "type": "nominal"}, "color": {"field": "k", "type": "nominal", "scale": {"domain": ["k","n","r","d"], "range": ["#000000","#1b1b5e","#ff2020","#6fa6e8"]}, "legend": null}}},
    {"data": {"name": "leg"}, "mark": {"type": "rule", "strokeWidth": 1.2}, "encoding": {"x2": {"field": "x2"}, "y": {"field": "y", "type": "quantitative"}, "color": {"field": "k", "type": "nominal", "scale": {"domain": ["k","n","r","d"], "range": ["#000000","#1b1b5e","#ff2020","#6fa6e8"]}, "legend": null}}},
    {"data": {"values": [{"x": 24, "y": 132, "t": "(d)"}]}, "mark": {"type": "text", "fontSize": 15}, "encoding": {"y": {"field": "y", "type": "quantitative"}, "text": {"field": "t", "type": "nominal"}}}
   ]},
  {"width": 193, "height": 142,
   "encoding": {"x": {"field": "x", "type": "quantitative", "scale": {"domain": [20, 80], "nice": false, "zero": false}, "axis": {"values": [20,30,40,50,60,70,80], "title": "2 Theta (degree)", "tickSize": -3, "labelFontSize": 7, "titleFontSize": 8.5, "labelPadding": 4, "titlePadding": 2}}},
   "layer": [
    {"data": {"name": "eo"}, "mark": {"type": "line", "color": "#1a1a1a", "strokeWidth": 2}, "encoding": {"y": {"field": "o", "type": "quantitative", "scale": {"domain": [0, 142], "nice": false}, "axis": {"title": "Intensity (a.u.)", "labels": false, "ticks": false, "titleFontSize": 8.5, "titlePadding": 4}}}},
    {"data": {"name": "eo"}, "mark": {"type": "point", "shape": "circle", "size": 5, "color": "#222", "strokeWidth": 0.6, "filled": false}, "encoding": {"y": {"field": "o", "type": "quantitative"}}},
    {"data": {"name": "eo"}, "mark": {"type": "line", "color": "#ff2020", "strokeWidth": 1}, "encoding": {"y": {"field": "c", "type": "quantitative"}}},
    {"data": {"name": "ed"}, "mark": {"type": "line", "color": "#3d8be0", "strokeWidth": 0.8}, "encoding": {"y": {"field": "y", "type": "quantitative"}}},
    {"data": {"name": "eb"}, "mark": {"type": "rule", "color": "#1b1b5e", "strokeWidth": 1.2}, "encoding": {"y": {"datum": 30.7, "type": "quantitative"}, "y2": {"datum": 34.7}}},
    {"data": {"name": "et"}, "mark": {"type": "text", "align": "left", "fontSize": 7}, "encoding": {"y": {"field": "y", "type": "quantitative"}, "text": {"field": "t", "type": "nominal"}}},
    {"data": {"name": "sym"}, "mark": {"type": "text", "fontSize": 7}, "encoding": {"y": {"field": "y", "type": "quantitative"}, "text": {"field": "t", "type": "nominal"}, "color": {"field": "k", "type": "nominal", "scale": {"domain": ["k","n","r","d"], "range": ["#000000","#1b1b5e","#ff2020","#6fa6e8"]}, "legend": null}}},
    {"data": {"name": "leg"}, "mark": {"type": "rule", "strokeWidth": 1.2}, "encoding": {"x2": {"field": "x2"}, "y": {"field": "y", "type": "quantitative"}, "color": {"field": "k", "type": "nominal", "scale": {"domain": ["k","n","r","d"], "range": ["#000000","#1b1b5e","#ff2020","#6fa6e8"]}, "legend": null}}},
    {"data": {"values": [{"x": 24, "y": 132, "t": "(e)"}]}, "mark": {"type": "text", "fontSize": 15}, "encoding": {"y": {"field": "y", "type": "quantitative"}, "text": {"field": "t", "type": "nominal"}}}
   ]}
 ]}
]
}
